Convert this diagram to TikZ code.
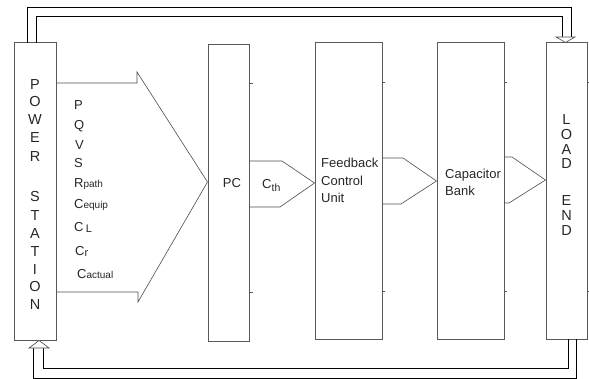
\documentclass[tikz,border=0pt]{standalone}
\usepackage{fontspec}
\setmainfont{Liberation Sans}
\definecolor{boxgray}{gray}{0.35}
\definecolor{arrgray}{gray}{0.3}
\begin{document}
\begin{tikzpicture}[x=1pt,y=-1pt,
  box/.style={draw=boxgray, line width=1pt, inner sep=0pt},
  blk/.style={draw=arrgray, line width=0.6pt, line join=miter},
  fb/.style={draw=black, line width=0.8pt},
  head/.style={draw=arrgray, line width=0.6pt, fill=white},
  tick/.style={draw=boxgray, line width=0.8pt},
  vlet/.style={font=\fontsize{14.5}{16}\selectfont, inner sep=0pt, text=black!85},
  par/.style={font=\fontsize{13}{15}\selectfont, inner sep=0pt, anchor=base west, text=black!85},
  lbl/.style={font=\fontsize{13}{17.5}\selectfont, inner sep=0pt, align=left, text=black!85}]
\useasboundingbox (0,0) rectangle (589,379);

% boxes
\node[box, minimum width=42pt, minimum height=297pt] (ps) at (35,191.5) {};
\node[box, minimum width=41pt, minimum height=296pt] (pc) at (228.5,193) {};
\node[box, minimum width=67pt, minimum height=296pt] (fcu) at (348.5,191) {};
\node[box, minimum width=67pt, minimum height=296pt] (cb) at (470.5,191) {};
\node[box, minimum width=41pt, minimum height=296pt] (le) at (566.5,191) {};

% small ticks on right edges
\draw[tick] (pc.east |- 0,83) -- ++(3,0);
\draw[tick] (pc.east |- 0,292) -- ++(3,0);
\draw[tick] (fcu.east |- 0,82) -- ++(2,0);
\draw[tick] (fcu.east |- 0,291) -- ++(2,0);
\draw[tick] (cb.east |- 0,82) -- ++(2,0);
\draw[tick] (cb.east |- 0,291) -- ++(2,0);
\draw[tick] (le.east |- 0,82) -- ++(2,0);
\draw[tick] (le.east |- 0,291) -- ++(2,0);

% block arrows
\draw[blk] (ps.east |- 0,83) -- (137,83) -- (137,72) -- (pc.west |- 0,182)
  -- (138,302) -- (138,292) -- (ps.east |- 0,292);
\draw[blk] (pc.east |- 0,161) -- (282,161) -- (fcu.west |- 0,183)
  -- (280,207) -- (pc.east |- 0,207);
\draw[blk] (fcu.east |- 0,158) -- (403,158) -- (cb.west |- 0,181)
  -- (401,204) -- (fcu.east |- 0,204);
\draw[blk] (cb.east |- 0,157) -- (512,157) -- (le.west |- 0,180)
  -- (509,203) -- (cb.east |- 0,203);

% feedback lines (top)
\coordinate (t1) at (27,43);
\coordinate (t2) at (36,43);
\coordinate (h1) at (571,37);
\coordinate (h2) at (562,37);
\draw[fb] (t1) -- (27,7) -- (571,7) -- (h1);
\draw[fb] (t2) -- (36,16) -- (562,16) -- (h2);
\draw[head] (556,37) -- (575,37) -- (le.north -| 565.5,0) -- cycle;

% feedback lines (bottom)
\coordinate (b1) at (568,339);
\coordinate (b2) at (576,339);
\draw[fb] (b1) -- (568,368) -- (43,368) -- (43,348);
\draw[fb] (b2) -- (576,378) -- (33,378) -- (33,348);
\draw[head] (29,348) -- (49,348) -- (ps.south -| 39,0) -- cycle;

% POWER STATION
\node[vlet] (p1) at (35,85) {P};
\node[vlet] (p2) at (35,102) {O};
\node[vlet] (p3) at (35,120) {W};
\node[vlet] (p4) at (35,138) {E};
\node[vlet] (p5) at (35,157) {R};
\node[vlet] (s1) at (35,197) {S};
\node[vlet] (s2) at (35,216) {T};
\node[vlet] (s3) at (35,234) {A};
\node[vlet] (s4) at (35,252) {T};
\node[vlet] (s5) at (35,270) {I};
\node[vlet] (s6) at (35,287) {O};
\node[vlet] (s7) at (35,305) {N};

% LOAD END
\node[vlet] (l1) at (566.5,120) {L};
\node[vlet] (l2) at (566.5,135) {O};
\node[vlet] (l3) at (566.5,150) {A};
\node[vlet] (l4) at (566.5,164) {D};
\node[vlet] (e1) at (566.5,201) {E};
\node[vlet] (e2) at (566.5,216) {N};
\node[vlet] (e3) at (566.5,231) {D};

% parameter list
\node[par] (q1) at (74,109.5) {P};
\node[par] (q2) at (74,129.5) {Q};
\node[par] (q3) at (75,149.5) {V};
\node[par] (q4) at (74,167.5) {S};
\node[par] (q5) at (74,187.5) {R\raisebox{-0.5pt}{\fontsize{10}{11}\selectfont path}};
\node[par] (q6) at (74,208.5) {C\raisebox{-0.5pt}{\fontsize{10}{11}\selectfont equip}};
\node[par] (q7) at (74,232) {C\,\raisebox{-1pt}{\fontsize{11}{12}\selectfont L}};
\node[par] (q8) at (75,256) {C\raisebox{-0.5pt}{\fontsize{11}{12}\selectfont r}};
\node[par] (q9) at (77,278.5) {C\raisebox{-0.5pt}{\fontsize{10}{11}\selectfont actual}};

% labels
\node[lbl] (pct) at (232,183) {PC};
\node[lbl, anchor=base west] (cth) at (262,188.5) {C\raisebox{-3pt}{\fontsize{10.5}{11}\selectfont th}};
\node[lbl, anchor=west] (fcut) at (321,180.5) {Feedback\\Control\\Unit};
\node[lbl, anchor=west] (cbt) at (445,182.5) {Capacitor\\Bank};
\end{tikzpicture}
\end{document}
